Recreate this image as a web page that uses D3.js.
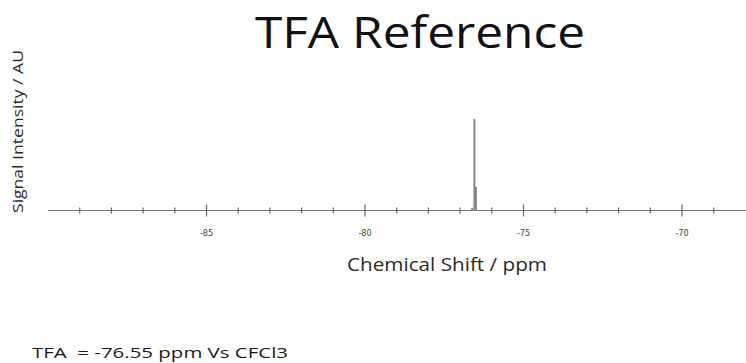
<!DOCTYPE html>
<html><head><meta charset="utf-8">
<script src="https://cdn.jsdelivr.net/npm/d3@7"></script>
<style>body{margin:0;background:#fff;} svg{display:block;} text{white-space:pre;}</style>
</head><body>
<script>
const shifts = [-76.62, -76.55, -76.50];
const intensities = [0.03, 1.0, 0.26];
const majorTicks = [-85, -80, -75, -70];
const minorTicks = d3.range(-89, -68, 1);
const title = "TFA Reference";
const xLabel = "Chemical Shift / ppm";
const yLabel = "Signal Intensity / AU";
const note = "TFA  = -76.55 ppm Vs CFCl3";

const W = 746, H = 363;
const svg = d3.select("body").append("svg").attr("width", W).attr("height", H);
const x = d3.scaleLinear().domain([-85, -70]).range([206.5, 682]);
const y = d3.scaleLinear().domain([0, 1]).range([210.5, 119]);
const x0 = x.invert(48), x1 = x.invert(746);

svg.append("line").attr("x1", x(x0)).attr("x2", x(x1)).attr("y1", y(0)).attr("y2", y(0))
  .attr("stroke", "#777").attr("stroke-width", 1.2);

const minor = minorTicks.filter(t => !majorTicks.includes(t));
svg.selectAll(".mn").data(minor).enter().append("line")
  .attr("x1", d => x(d)).attr("x2", d => x(d)).attr("y1", y(0) - 3).attr("y2", y(0) + 3)
  .attr("stroke", "#666").attr("stroke-width", 1.2);
svg.selectAll(".mj").data(majorTicks).enter().append("line")
  .attr("x1", d => x(d)).attr("x2", d => x(d)).attr("y1", y(0) - 6).attr("y2", y(0) + 6)
  .attr("stroke", "#666").attr("stroke-width", 1.2);
svg.selectAll(".tl").data(majorTicks).enter().append("text")
  .attr("x", d => x(d)).attr("y", 236).attr("text-anchor", "middle")
  .attr("font-family", "DejaVu Sans Condensed, Liberation Sans Narrow, sans-serif").attr("font-size", 9).attr("fill", "#444")
  .text(d => d);

svg.selectAll(".pk").data(shifts.map((s, i) => ({s, v: intensities[i]}))).enter().append("line")
  .attr("x1", d => x(d.s)).attr("x2", d => x(d.s)).attr("y1", y(0)).attr("y2", d => y(d.v))
  .attr("stroke", "#888").attr("stroke-width", 2);

function fit(sel, len) { return sel.attr("textLength", len).attr("lengthAdjust", "spacingAndGlyphs"); }

fit(svg.append("text").attr("x", 255).attr("y", 48)
  .attr("font-family", "Open Sans, sans-serif").attr("font-size", 43).attr("fill", "#111").text(title), 330);
fit(svg.append("text").attr("x", 347).attr("y", 270.5)
  .attr("font-family", "Open Sans, sans-serif").attr("font-size", 18).attr("fill", "#2a2a2a").text(xLabel), 200);
fit(svg.append("text").attr("transform", "translate(23,213) rotate(-90)")
  .attr("font-family", "Open Sans, sans-serif").attr("font-size", 15).attr("fill", "#2a2a2a").text(yLabel), 163);
fit(svg.append("text").attr("x", 32).attr("y", 358)
  .attr("font-family", "Open Sans, sans-serif").attr("font-size", 14).attr("fill", "#1a1a1a").text(note), 256);
</script>
</body></html>
